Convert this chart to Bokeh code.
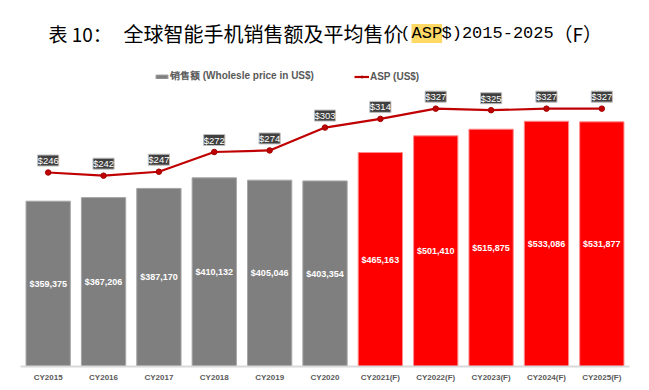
from bokeh.plotting import figure
from bokeh.models import ColumnDataSource, Range1d, FactorRange, LabelSet, Label, Legend, LegendItem
from bokeh.core.properties import value
from bokeh.embed import file_html
from bokeh.resources import INLINE

years = ["CY2015", "CY2016", "CY2017", "CY2018", "CY2019", "CY2020",
         "CY2021(F)", "CY2022(F)", "CY2023(F)", "CY2024(F)", "CY2025(F)"]
sales = [359375, 367206, 387170, 410132, 405046, 403354,
         465163, 501410, 515875, 533086, 531877]
asp = [246, 242, 247, 272, 274, 303, 314, 327, 325, 327, 327]
forecast = [False] * 6 + [True] * 5

hist = ColumnDataSource(dict(
    year=[y for y, f in zip(years, forecast) if not f],
    sales=[s for s, f in zip(sales, forecast) if not f]))
fc = ColumnDataSource(dict(
    year=[y for y, f in zip(years, forecast) if f],
    sales=[s for s, f in zip(sales, forecast) if f]))
lbl = ColumnDataSource(dict(
    year=years,
    mid=[s / 2 for s in sales],
    txt=["${:,}".format(s) for s in sales]))
asp_src = ColumnDataSource(dict(year=years, asp=asp, txt=["$%d" % a for a in asp]))

# frame spans page y 8..366 (358 px); data scale keeps 600000 / 350 over the lower 276 px
FRAME_H = 358
PLOT_H = 276
p = figure(x_range=FactorRange(*years, range_padding=0),
           y_range=Range1d(0, 600000 * FRAME_H / PLOT_H),
           width=649, height=390, output_backend="svg", toolbar_location=None,
           y_axis_location=None,
           min_border_left=20, min_border_right=20, min_border_top=8, min_border_bottom=24)
p.extra_y_ranges = {"asp": Range1d(0, 350 * FRAME_H / PLOT_H)}
p.outline_line_color = None
p.grid.grid_line_color = None
p.background_fill_color = "white"

g_r = p.vbar(x="year", top="sales", width=0.8, source=hist,
             fill_color="#7f7f7f", line_color="#a6a6a6", line_width=1)
r_r = p.vbar(x="year", top="sales", width=0.8, source=fc,
             fill_color="#ff0000", line_color="#ff8c8c", line_width=1)

l_r = p.line(x="year", y="asp", source=asp_src, y_range_name="asp",
             line_color="#c00000", line_width=2.2)
s_r = p.scatter(x="year", y="asp", source=asp_src, y_range_name="asp",
                size=5.5, fill_color="#c00000", line_color="#a00000")

p.add_layout(LabelSet(x="year", y="mid", text="txt", source=lbl,
                      text_align="center", text_baseline="middle",
                      text_color="white", text_font_size="9px", text_font_style="bold",
                      text_font=value("Liberation Sans")))
p.add_layout(LabelSet(x="year", y="asp", text="txt", source=asp_src, y_range_name="asp",
                      y_offset=12, text_align="center", text_baseline="middle",
                      text_color="white", text_font_size="9.5px",
                      text_font=value("Liberation Sans"),
                      background_fill_color="#404040", border_line_color="#bfbfbf"))

ax = p.xaxis[0]
ax.axis_line_color = "#d9d9d9"
ax.axis_line_width = 2
ax.major_tick_line_color = None
ax.minor_tick_line_color = None
ax.major_label_text_font_size = "8px"
ax.major_label_text_font_style = "bold"
ax.major_label_text_color = "#595959"
ax.major_label_text_font = "Liberation Sans"
ax.major_label_standoff = 0

legend = Legend(items=[
    LegendItem(label="销售额 (Wholesle price in US$)", renderers=[g_r]),
    LegendItem(label="ASP (US$)", renderers=[l_r, s_r]),
], location=(134, 283), orientation="horizontal", border_line_color=None,
    background_fill_alpha=0, label_text_font_size="10px", label_text_font_style="bold",
    label_text_color="#595959", label_text_font="Liberation Sans",
    glyph_width=15, glyph_height=5, label_standoff=1, spacing=40, padding=0, margin=0,
    label_height=10)
p.add_layout(legend)

cjk = "Noto Sans CJK SC"
mono = "Liberation Mono"
ty = 333
for txt, x, font, size, bg in [
    ("ASP", 391, mono, "17px", "#FFD966"),
    ("表 10：", 28, cjk, "19px", None),
    ("全球智能手机销售额及平均售价", 103, cjk, "20px", None),
    ("(", 380, mono, "17px", None),
    ("$)2015-2025", 421, mono, "17px", None),
    ("（F）", 533, cjk, "19px", None),
]:
    kw = dict(background_fill_color=bg) if bg else {}
    p.add_layout(Label(x=x, y=ty, x_units="screen", y_units="screen", text=txt,
                       text_font=font, text_font_size=size, text_color="black",
                       text_baseline="alphabetic", text_align="left", **kw))

open("out.html", "w").write(file_html(p, INLINE))
